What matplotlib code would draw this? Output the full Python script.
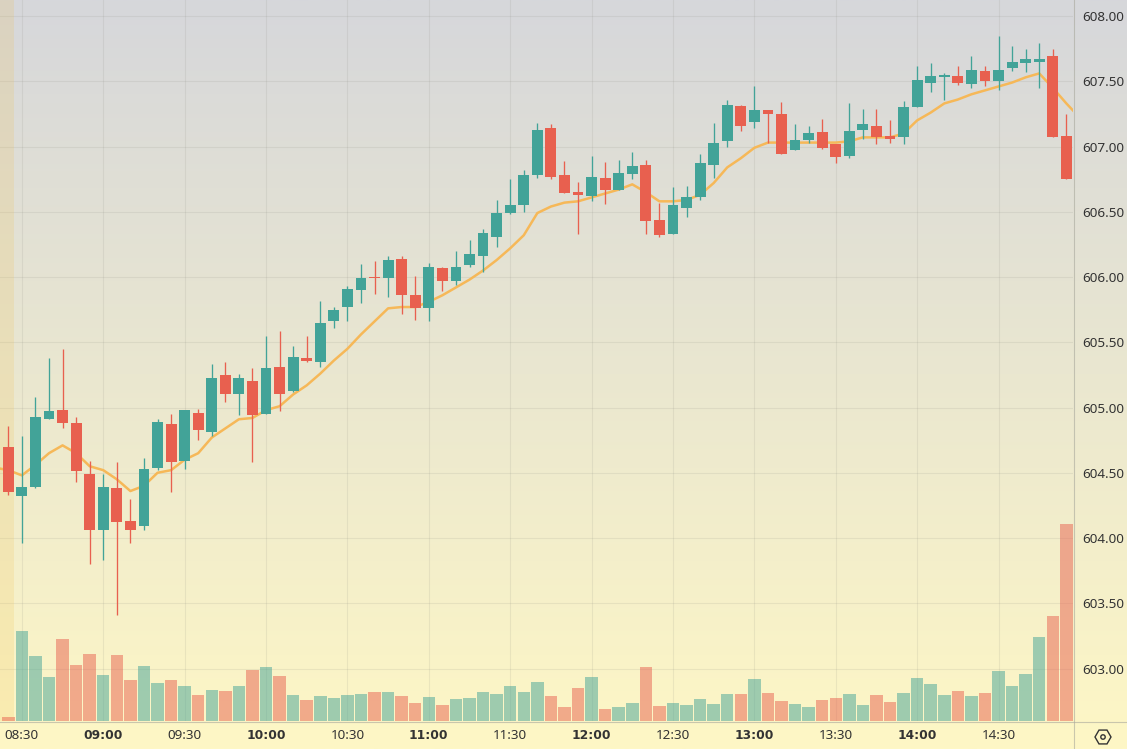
import numpy as np
import matplotlib
matplotlib.use("Agg")
import matplotlib.pyplot as plt
from matplotlib.colors import LinearSegmentedColormap
from matplotlib.patches import Circle, RegularPolygon

# 5 minute bars, first bar is pre-market
opens = [604.70, 604.32, 604.39, 604.91, 604.98, 604.88, 604.49, 604.06, 604.38, 604.13,
         604.09, 604.54, 604.87, 604.59, 604.96, 604.81, 605.25, 605.10, 605.20, 604.95,
         605.31, 605.13, 605.38, 605.35, 605.66, 605.77, 605.90, 606.00, 605.99, 606.14,
         605.86, 605.76, 606.07, 605.97, 606.09, 606.16, 606.31, 606.49, 606.55, 606.78,
         607.14, 606.78, 606.65, 606.62, 606.76, 606.67, 606.79, 606.86, 606.44, 606.33,
         606.53, 606.61, 606.86, 607.04, 607.31, 607.19, 607.28, 607.25, 606.97, 607.05,
         607.11, 607.02, 606.93, 607.13, 607.16, 607.08, 607.07, 607.30, 607.49, 607.53,
         607.54, 607.48, 607.58, 607.50, 607.60, 607.64, 607.65, 607.69, 607.08]
closes = [604.35, 604.39, 604.93, 604.97, 604.88, 604.51, 604.06, 604.39, 604.12, 604.06,
          604.53, 604.89, 604.58, 604.98, 604.83, 605.23, 605.10, 605.23, 604.94, 605.30,
          605.10, 605.39, 605.36, 605.65, 605.75, 605.91, 605.99, 605.99, 606.13, 605.86,
          605.76, 606.08, 605.97, 606.08, 606.18, 606.34, 606.49, 606.55, 606.78, 607.13,
          606.77, 606.64, 606.63, 606.77, 606.67, 606.80, 606.85, 606.43, 606.32, 606.55,
          606.61, 606.87, 607.03, 607.32, 607.16, 607.28, 607.25, 606.94, 607.05, 607.10,
          606.99, 606.92, 607.12, 607.17, 607.07, 607.06, 607.30, 607.51, 607.54, 607.55,
          607.49, 607.59, 607.50, 607.59, 607.65, 607.67, 607.67, 607.07, 606.75]
highs = [604.86, 604.78, 605.08, 605.38, 605.45, 604.93, 604.59, 604.49, 604.58, 604.30,
         604.61, 604.91, 604.95, 604.98, 604.99, 605.33, 605.35, 605.26, 605.30, 605.55,
         605.59, 605.47, 605.55, 605.82, 605.77, 605.93, 606.10, 606.12, 606.16, 606.16,
         606.01, 606.11, 606.08, 606.20, 606.28, 606.37, 606.59, 606.75, 606.82, 607.18,
         607.17, 606.89, 606.73, 606.93, 606.88, 606.90, 606.96, 606.90, 606.57, 606.69,
         606.70, 606.94, 607.18, 607.36, 607.32, 607.46, 607.28, 607.34, 607.17, 607.16,
         607.21, 607.02, 607.33, 607.29, 607.29, 607.20, 607.35, 607.62, 607.64, 607.56,
         607.62, 607.69, 607.62, 607.85, 607.77, 607.75, 607.79, 607.75, 607.25]
lows = [604.33, 603.96, 604.38, 604.91, 604.84, 604.43, 603.80, 603.83, 603.41, 603.96,
        604.06, 604.52, 604.35, 604.53, 604.75, 604.78, 605.04, 604.94, 604.58, 604.95,
        604.97, 605.12, 605.35, 605.31, 605.61, 605.66, 605.80, 605.87, 605.85, 605.72,
        605.67, 605.66, 605.89, 605.94, 606.08, 606.04, 606.23, 606.48, 606.50, 606.76,
        606.75, 606.64, 606.33, 606.58, 606.56, 606.67, 606.75, 606.33, 606.31, 606.33,
        606.46, 606.59, 606.76, 607.00, 607.12, 607.14, 607.03, 606.94, 606.97, 607.03,
        606.98, 606.87, 606.91, 607.06, 607.02, 607.03, 607.02, 607.30, 607.42, 607.36,
        607.47, 607.45, 607.46, 607.43, 607.58, 607.57, 607.45, 607.07, 606.75]
volumes = [4, 90, 65, 44, 82, 56, 67, 46, 66, 41, 55, 38, 41, 35, 26, 31, 30, 35, 51, 54,
           45, 26, 21, 25, 23, 26, 27, 29, 29, 25, 18, 24, 16, 22, 23, 29, 27, 35, 29, 39,
           25, 14, 33, 44, 12, 14, 18, 54, 15, 18, 16, 22, 17, 27, 27, 42, 28, 20, 17, 14,
           21, 23, 27, 16, 26, 19, 28, 43, 37, 26, 30, 25, 28, 50, 35, 47, 84, 105, 197]
# moving average runs one bar past each end of the visible range
ema = [604.54, 604.52, 604.48, 604.56, 604.65, 604.71, 604.65, 604.55, 604.52, 604.45,
       604.36, 604.40, 604.50, 604.52, 604.60, 604.65, 604.77, 604.84, 604.91, 604.92,
       604.98, 605.01, 605.10, 605.17, 605.26, 605.36, 605.45, 605.56, 605.66, 605.76,
       605.77, 605.77, 605.81, 605.86, 605.92, 605.98, 606.05, 606.13, 606.22, 606.32,
       606.49, 606.54, 606.57, 606.58, 606.61, 606.64, 606.67, 606.71, 606.65, 606.58,
       606.58, 606.59, 606.63, 606.72, 606.84, 606.91, 606.99, 607.03, 607.03, 607.03,
       607.03, 607.03, 607.03, 607.04, 607.07, 607.07, 607.07, 607.10, 607.20, 607.26,
       607.33, 607.36, 607.40, 607.43, 607.46, 607.49, 607.53, 607.56, 607.45, 607.33,
       607.22]
time_ticks = [1, 7, 13, 19, 25, 31, 37, 43, 49, 55, 61, 67, 73]
time_labels = ['08:30', '09:00', '09:30', '10:00', '10:30', '11:00', '11:30',
               '12:00', '12:30', '13:00', '13:30', '14:00', '14:30']
price_ticks = [603.0, 603.5, 604.0, 604.5, 605.0, 605.5, 606.0, 606.5, 607.0, 607.5, 608.0]

UP = '#42a398'
DOWN = '#e8604f'
W, H = 1127, 749
PANE_W, PANE_H = 1073, 721

plt.rcParams['font.family'] = ['Noto Sans', 'DejaVu Sans']

fig = plt.figure(figsize=(W / 100, H / 100), dpi=100)

# background gradient behind everything
bg = fig.add_axes([0, 0, 1, 1], zorder=0)
cmap = LinearSegmentedColormap.from_list('bg', ['#d6d7db', '#fef7c5'])
bg.imshow(np.linspace(0, 1, 256).reshape(-1, 1), aspect='auto', cmap=cmap, extent=(0, W, H, 0))
bg.set_xlim(0, W)
bg.set_ylim(H, 0)
bg.axis('off')

# scale borders
bg.plot([PANE_W + 0.5] * 2, [0, H], color='#a8a89c', lw=0.8, alpha=0.6)
bg.plot([0, W], [PANE_H + 0.5] * 2, color='#a8a89c', lw=0.8, alpha=0.6)

# settings icon in the corner
bg.add_patch(RegularPolygon((1103, 737), 6, radius=8, orientation=np.pi / 2, fill=False,
                            ec='#333333', lw=1))
bg.add_patch(Circle((1103, 737), 2.2, fill=False, ec='#333333', lw=1))

ax = fig.add_axes([0, (H - PANE_H) / H, PANE_W / W, PANE_H / H], zorder=1)
ax.patch.set_alpha(0)
x = np.arange(len(opens))
opens_a = np.array(opens)
closes_a = np.array(closes)
colors = [UP if c > o else DOWN for o, c in zip(opens, closes)]

# volume pane sits at the bottom of the same area
ax_vol = ax.twinx()
ax_vol.set_ylim(0, PANE_H)
ax_vol.bar(x, volumes, width=0.92, color=colors, alpha=0.5, lw=0)
ax_vol.set_yticks([])
for s in ax_vol.spines.values():
    s.set_visible(False)

ax.set_xlim(-0.612, 78.49)
ax.set_ylim(602.598, 608.1226)

# pre-market shading
ax.axvspan(-0.612, 0.45, color='#f0c04c', alpha=0.18, lw=0)

ax.grid(True, color='#8a8a80', alpha=0.14, lw=0.8)
ax.set_axisbelow(True)

ax.plot(np.arange(-1, len(ema) - 1), ema, color='#f6b858', lw=1.8, zorder=2)

ax.vlines(x, lows, highs, colors=colors, lw=0.95, zorder=3)
body = np.maximum(np.abs(closes_a - opens_a), 0.012)
ax.bar(x, body, bottom=np.minimum(opens_a, closes_a), width=0.8, color=colors, lw=0, zorder=4)

ax.yaxis.tick_right()
ax.set_yticks(price_ticks)
ax.set_yticklabels([f'{p:.2f}' for p in price_ticks])
ax.set_xticks(time_ticks)
ax.set_xticklabels(time_labels)
ax.tick_params(axis='both', length=0, labelsize=9.7, labelcolor='#333333')
ax.tick_params(axis='y', pad=7)
ax.tick_params(axis='x', pad=6)
for lab in ax.get_xticklabels():
    if lab.get_text().endswith(':00'):
        lab.set_family('DejaVu Sans')
        lab.set_fontweight('bold')
        lab.set_fontsize(8.8)
for s in ax.spines.values():
    s.set_visible(False)

plt.savefig('out.png', dpi=100)
plt.close()
